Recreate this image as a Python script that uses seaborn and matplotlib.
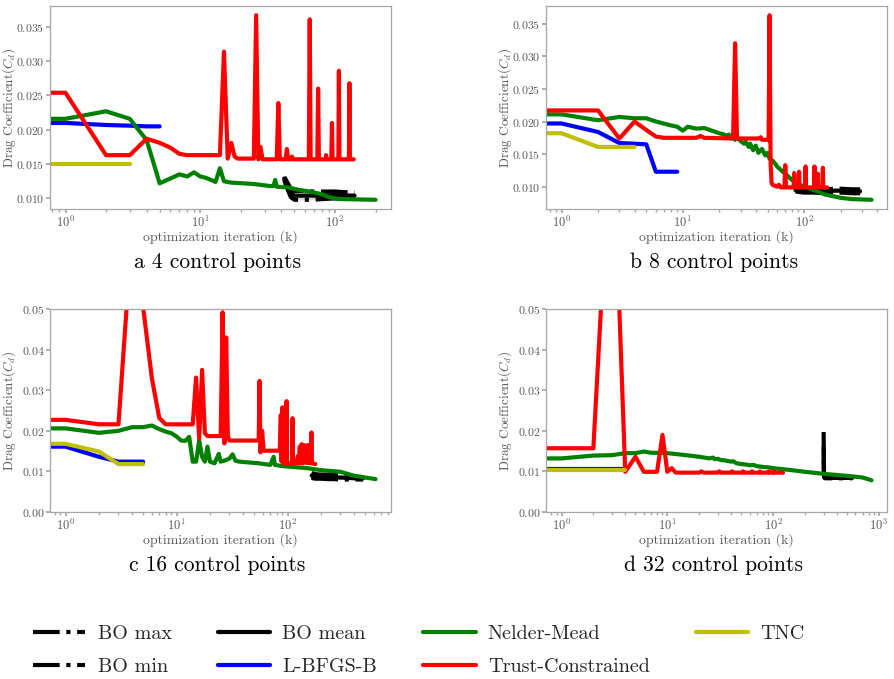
import matplotlib
matplotlib.use("Agg")
import matplotlib.pyplot as plt
import seaborn as sns

# ---------------- data ----------------
# panel a: 4 control points
a_tc_x = [0, 1, 2, 3, 4, 5, 6, 7, 8, 14, 15, 16, 17, 18, 19, 25, 26, 27, 28, 29, 37, 38, 39,
          43, 44, 45, 47, 48, 49, 64, 65, 66, 74, 75, 76, 85, 86, 87, 94, 95, 96, 106, 107, 108,
          127, 128, 129, 138]
a_tc_y = [0.0254, 0.0254, 0.0163, 0.0163, 0.0187, 0.0181, 0.0174, 0.0165, 0.0163,
          0.0163, 0.0314, 0.0158, 0.0181, 0.0161, 0.0158,
          0.0158, 0.0367, 0.0157, 0.0175, 0.0157,
          0.0157, 0.0239, 0.0157, 0.0157, 0.0172, 0.0157, 0.0157, 0.0161, 0.0157,
          0.0157, 0.0361, 0.0157, 0.0157, 0.0260, 0.0157, 0.0157, 0.0163, 0.0157,
          0.0157, 0.0210, 0.0157, 0.0157, 0.0286, 0.0157, 0.0157, 0.0268, 0.0157, 0.0157]
a_nm_x = [0, 1, 2, 3, 4, 5, 6, 7, 8, 9, 10, 11, 12, 13, 14, 15, 17, 25, 33, 35, 36, 37, 45,
          55, 65, 80, 90, 100, 110, 200]
a_nm_y = [0.0216, 0.0216, 0.0227, 0.0216, 0.0185, 0.0122, 0.0129, 0.0135, 0.0132, 0.0138,
          0.0132, 0.0130, 0.0127, 0.0124, 0.0144, 0.0125, 0.0123, 0.0121, 0.0118, 0.0118,
          0.0127, 0.0117, 0.0116, 0.0112, 0.0110, 0.0106, 0.0102, 0.0100, 0.0099, 0.0098]
a_lb_x = [0, 1, 2, 3, 4, 5]
a_lb_y = [0.0211, 0.0210, 0.0207, 0.0206, 0.0205, 0.0205]
a_tnc_x = [0, 1, 2, 3]
a_tnc_y = [0.0150, 0.0150, 0.0150, 0.0150]
a_bo_x = [42, 43, 45, 47, 50, 60, 70, 80, 100, 120, 140]
a_bo_max = [0.0131, 0.0128, 0.0121, 0.0114, 0.0111, 0.0111, 0.0110, 0.0110, 0.0110, 0.0109, 0.0109]
a_bo_min = [0.0127, 0.0121, 0.0111, 0.0102, 0.0098, 0.0098, 0.0098, 0.0099, 0.0100, 0.0100, 0.0100]
a_bo_mean = [0.0129, 0.0124, 0.0116, 0.0108, 0.0104, 0.0104, 0.0104, 0.0104, 0.0105, 0.0104, 0.0104]

# panel b: 8 control points
b_tc_x = [0, 1, 2, 3, 4, 5, 6, 7, 13, 14, 15, 26, 27, 28, 29, 43, 44, 45, 50, 51, 52, 53, 54,
          55, 60, 62, 64, 69, 70, 71, 82, 83, 84, 90, 91, 92, 102, 103, 104, 121, 122, 123,
          129, 130, 131, 142, 143, 144, 155]
b_tc_y = [0.0217, 0.0217, 0.0217, 0.0174, 0.0200, 0.0187, 0.0177, 0.0175,
          0.0175, 0.0178, 0.0175, 0.0174, 0.0320, 0.0174, 0.0174, 0.0174, 0.0176, 0.0172,
          0.0172, 0.0171, 0.0363, 0.0136, 0.0106, 0.0103, 0.0100, 0.0103, 0.0099,
          0.0099, 0.0133, 0.0099, 0.0099, 0.0121, 0.0099, 0.0099, 0.0123, 0.0099,
          0.0099, 0.0131, 0.0099, 0.0099, 0.0131, 0.0099, 0.0099, 0.0120, 0.0099,
          0.0099, 0.0129, 0.0099, 0.0099]
b_nm_x = [0, 1, 2, 3, 4, 5, 6, 8, 9, 10, 11, 13, 15, 18, 20, 22, 23, 24, 25, 26, 27, 28, 30,
          32, 33, 35, 36, 38, 40, 42, 45, 48, 50, 52, 55, 58, 60, 65, 70, 80, 90, 100, 120,
          150, 200, 250, 360]
b_nm_y = [0.0211, 0.0211, 0.0202, 0.0207, 0.0205, 0.0205, 0.0200,
          0.0194, 0.0192, 0.0186, 0.0192, 0.0189, 0.0190, 0.0185, 0.0182,
          0.0180, 0.0177, 0.0180, 0.0174, 0.0181, 0.0172, 0.0176, 0.0170,
          0.0166, 0.0169, 0.0161, 0.0166, 0.0156, 0.0163, 0.0152, 0.0158,
          0.0148, 0.0152, 0.0143, 0.0140, 0.0135, 0.0131, 0.0125, 0.0120,
          0.0110, 0.0104, 0.0100, 0.0095, 0.0088, 0.0083, 0.0081, 0.0080]
b_lb_x = [0, 1, 2, 3, 4, 5, 6, 7, 8, 9]
b_lb_y = [0.0197, 0.0197, 0.0184, 0.0167, 0.0166, 0.0165, 0.0123, 0.0123, 0.0123, 0.0123]
b_tnc_x = [0, 1, 2, 3, 4]
b_tnc_y = [0.0182, 0.0182, 0.0161, 0.0161, 0.0161]
b_bo_x = [85, 90, 100, 120, 150, 180, 200, 250, 290]
b_bo_max = [0.0097, 0.0097, 0.0096, 0.0096, 0.0096, 0.0097, 0.0097, 0.0096, 0.0096]
b_bo_min = [0.0093, 0.0092, 0.0091, 0.0091, 0.0090, 0.0091, 0.0091, 0.0090, 0.0090]
b_bo_mean = [0.0095, 0.0094, 0.0093, 0.0093, 0.0093, 0.0094, 0.0094, 0.0093, 0.0093]

# panel c: 16 control points
c_tc_x = [0, 1, 2, 3, 4, 5, 6, 7, 8, 14, 15, 16, 17, 18, 19, 25, 26, 27, 28, 29, 30, 55, 56,
          57, 59, 61, 85, 87, 88, 90, 91, 97, 98, 99, 110, 111, 112, 120, 124, 126, 129, 131,
          134, 137, 140, 143, 146, 149, 152, 155, 158, 162, 164, 166, 178]
c_tc_y = [0.0227, 0.0227, 0.0216, 0.0216, 0.0706, 0.0505, 0.0329, 0.0231, 0.0216,
          0.0216, 0.0331, 0.0181, 0.0350, 0.0194, 0.0187,
          0.0187, 0.0492, 0.0169, 0.0430, 0.0186, 0.0176,
          0.0176, 0.0323, 0.0147, 0.0200, 0.0151,
          0.0151, 0.0239, 0.0125, 0.0258, 0.0120,
          0.0120, 0.0273, 0.0120, 0.0120, 0.0231, 0.0120,
          0.0120, 0.0138, 0.0120, 0.0161, 0.0120, 0.0167, 0.0120, 0.0165, 0.0122,
          0.0163, 0.0121, 0.0165, 0.0121, 0.0160, 0.0120, 0.0196, 0.0120, 0.0118]
c_nm_x = [0, 1, 2, 3, 4, 5, 6, 7, 8, 9, 10, 11, 12, 13, 14, 15, 16, 17, 18, 19, 20, 22, 24,
          25, 28, 30, 32, 34, 37, 45, 55, 70, 75, 77, 90, 100, 150, 200, 300, 400, 500, 620]
c_nm_y = [0.0206, 0.0206, 0.0195, 0.0200, 0.0209, 0.0209, 0.0213, 0.0204, 0.0198, 0.0194,
          0.0186, 0.0176, 0.0175, 0.0185, 0.0124, 0.0124, 0.0176, 0.0136, 0.0124, 0.0161,
          0.0124, 0.0120, 0.0143, 0.0124, 0.0128, 0.0132, 0.0142, 0.0126, 0.0124,
          0.0122, 0.0120, 0.0116, 0.0136, 0.0116, 0.0113, 0.0112, 0.0108,
          0.0103, 0.0099, 0.0089, 0.0085, 0.0081]
c_lb_x = [0, 1, 2, 3, 4, 5]
c_lb_y = [0.0161, 0.0161, 0.0136, 0.0124, 0.0124, 0.0124]
c_tnc_x = [0, 1, 2, 3, 4, 5]
c_tnc_y = [0.0168, 0.0168, 0.0149, 0.0118, 0.0118, 0.0118]
c_bo_x = [165, 170, 180, 200, 230, 260, 300, 350, 400, 480]
c_bo_max = [0.0097, 0.0095, 0.0093, 0.0092, 0.0092, 0.0091, 0.0090, 0.0089, 0.0087, 0.0086]
c_bo_min = [0.0085, 0.0083, 0.0082, 0.0082, 0.0081, 0.0081, 0.0080, 0.0080, 0.0080, 0.0080]
c_bo_mean = [0.0090, 0.0088, 0.0087, 0.0086, 0.0086, 0.0085, 0.0085, 0.0084, 0.0083, 0.0083]

# panel d: 32 control points
d_tc_x = [0, 1, 2, 3, 4, 5, 6, 7, 8, 9, 10, 11, 12, 20, 21, 22, 30, 31, 32, 40, 41, 42, 51,
          52, 53, 62, 63, 64, 74, 75, 76, 90, 91, 92, 100, 101, 102, 124]
d_tc_y = [0.0157, 0.0157, 0.0157, 0.1000, 0.0099, 0.0136, 0.0099, 0.0099, 0.0099, 0.0190,
          0.0099, 0.0108, 0.0097,
          0.0097, 0.0100, 0.0097, 0.0097, 0.0100, 0.0097, 0.0097, 0.0100, 0.0097,
          0.0097, 0.0100, 0.0097, 0.0097, 0.0100, 0.0097, 0.0097, 0.0100, 0.0097,
          0.0097, 0.0100, 0.0097, 0.0097, 0.0100, 0.0097, 0.0097]
d_nm_x = [0, 1, 2, 3, 4, 5, 6, 7, 10, 15, 20, 25, 27, 28, 30, 32, 35, 40, 42, 45, 50, 55, 60,
          65, 70, 80, 90, 100, 150, 200, 300, 500, 700, 850]
d_nm_y = [0.0132, 0.0132, 0.0139, 0.0140, 0.0145, 0.0145, 0.0149, 0.0146,
          0.0145, 0.0140, 0.0136, 0.0132, 0.0134, 0.0130, 0.0131, 0.0128,
          0.0127, 0.0124, 0.0125, 0.0120, 0.0118, 0.0117, 0.0115, 0.0116,
          0.0113, 0.0111, 0.0110, 0.0108, 0.0103, 0.0099, 0.0094, 0.0089, 0.0085, 0.0078]
d_lb_x = [0, 1, 2, 3, 4]
d_lb_y = [0.0106, 0.0106, 0.0106, 0.0106, 0.0106]
d_tnc_x = [0, 1, 2, 3, 4]
d_tnc_y = [0.0103, 0.0103, 0.0103, 0.0103, 0.0103]
d_bo_x = [300, 301, 303, 305, 310, 350, 400, 450, 500, 560]
d_bo_max = [0.0197, 0.0150, 0.0095, 0.0090, 0.0087, 0.0086, 0.0085, 0.0085, 0.0085, 0.0085]
d_bo_min = [0.0130, 0.0095, 0.0086, 0.0084, 0.0083, 0.0083, 0.0083, 0.0083, 0.0083, 0.0083]
d_bo_mean = [0.0160, 0.0120, 0.0090, 0.0087, 0.0085, 0.0084, 0.0084, 0.0084, 0.0084, 0.0084]

captions = ["a 4 control points", "b 8 control points",
            "c 16 control points", "d 32 control points"]
labels = ["BO max", "BO min", "BO mean", "L-BFGS-B", "Nelder-Mead",
          "Trust-Constrained", "TNC"]

# ---------------- style ----------------
sns.set_theme(style="ticks")
plt.rcParams.update({
    "font.family": ["cmr10", "DejaVu Serif"],
    "mathtext.fontset": "cm",
    "axes.formatter.use_mathtext": True,
    "axes.unicode_minus": False,
    "axes.edgecolor": "0.65",
    "axes.linewidth": 0.9,
    "xtick.color": "0.65",
    "ytick.color": "0.65",
    "xtick.labelcolor": "0.35",
    "ytick.labelcolor": "0.35",
    "xtick.major.size": 3,
    "ytick.major.size": 3,
    "xtick.minor.size": 1.8,
    "ytick.minor.size": 1.8,
    "xtick.major.pad": 1.5,
    "xtick.minor.pad": 1.5,
    "ytick.major.pad": 1.0,
    "xtick.labelsize": 9,
    "ytick.labelsize": 8.5,
})

W, H = 894, 679
fig = plt.figure(figsize=(W / 100, H / 100), dpi=100)


def rect(l, t, r, b):
    return [l / W, 1 - b / H, (r - l) / W, (b - t) / H]


axes = [fig.add_axes(rect(50, 6, 391, 209)),
        fig.add_axes(rect(546, 6, 887, 209)),
        fig.add_axes(rect(50, 309, 391, 512)),
        fig.add_axes(rect(546, 309, 887, 512))]

panels = [
    (a_bo_x, a_bo_max, a_bo_min, a_bo_mean, a_lb_x, a_lb_y, a_nm_x, a_nm_y, a_tc_x, a_tc_y, a_tnc_x, a_tnc_y),
    (b_bo_x, b_bo_max, b_bo_min, b_bo_mean, b_lb_x, b_lb_y, b_nm_x, b_nm_y, b_tc_x, b_tc_y, b_tnc_x, b_tnc_y),
    (c_bo_x, c_bo_max, c_bo_min, c_bo_mean, c_lb_x, c_lb_y, c_nm_x, c_nm_y, c_tc_x, c_tc_y, c_tnc_x, c_tnc_y),
    (d_bo_x, d_bo_max, d_bo_min, d_bo_mean, d_lb_x, d_lb_y, d_nm_x, d_nm_y, d_tc_x, d_tc_y, d_tnc_x, d_tnc_y),
]

LW = 3.0
for i, (ax, p) in enumerate(zip(axes, panels)):
    bx, bmax, bmin, bmean, lx, ly, nx, ny, tx, ty, kx, ky = p
    lab = (lambda s: s) if i == 0 else (lambda s: "_nolegend_")
    ax.fill_between(bx, bmin, bmax, color="0.8", alpha=0.7, lw=0)
    sns.lineplot(x=bx, y=bmax, ax=ax, color="black", lw=LW, linestyle="-.",
                 estimator=None, sort=False, legend=False, label=lab("BO max"))
    sns.lineplot(x=bx, y=bmin, ax=ax, color="black", lw=LW, linestyle="-.",
                 estimator=None, sort=False, legend=False, label=lab("BO min"))
    sns.lineplot(x=bx, y=bmean, ax=ax, color="black", lw=LW, linestyle="-",
                 estimator=None, sort=False, legend=False, label=lab("BO mean"))
    sns.lineplot(x=lx, y=ly, ax=ax, color="blue", lw=LW,
                 estimator=None, sort=False, legend=False, label=lab("L-BFGS-B"))
    sns.lineplot(x=nx, y=ny, ax=ax, color="green", lw=LW,
                 estimator=None, sort=False, legend=False, label=lab("Nelder-Mead"))
    sns.lineplot(x=tx, y=ty, ax=ax, color="red", lw=LW,
                 estimator=None, sort=False, legend=False, label=lab("Trust-Constrained"))
    sns.lineplot(x=kx, y=ky, ax=ax, color="#bfbf00", lw=LW,
                 estimator=None, sort=False, legend=False, label=lab("TNC"))
    ax.set_xscale("log")
    if i >= 2:
        ax.set_ylim(0, 0.05)
    ax.set_xlabel("optimization iteration (k)", fontsize=10, color="0.35", labelpad=0)
    ax.set_ylabel(r"Drag Coefficient$(C_d)$", fontsize=9.5, color="0.35")
    ax.yaxis.set_label_coords(-0.095, 0.5)
    for s in ax.spines.values():
        s.set_visible(True)
    if ax.get_legend():
        ax.get_legend().remove()

cap_pos = [(217, 262), (714, 262), (217, 565), (714, 565)]
for (cx, cy), txt in zip(cap_pos, captions):
    fig.text(cx / W, 1 - cy / H, txt, ha="center", va="center", fontsize=15.5, color="black")

handles, labs = axes[0].get_legend_handles_labels()
fig.legend(handles, labs, ncol=4, loc="upper left", bbox_to_anchor=(25 / W, 1 - 617 / H),
           frameon=False, fontsize=14.5, handlelength=2.6, handletextpad=0.6,
           columnspacing=2.3, labelspacing=0.75, borderaxespad=0)

fig.savefig("out.png", dpi=100)
